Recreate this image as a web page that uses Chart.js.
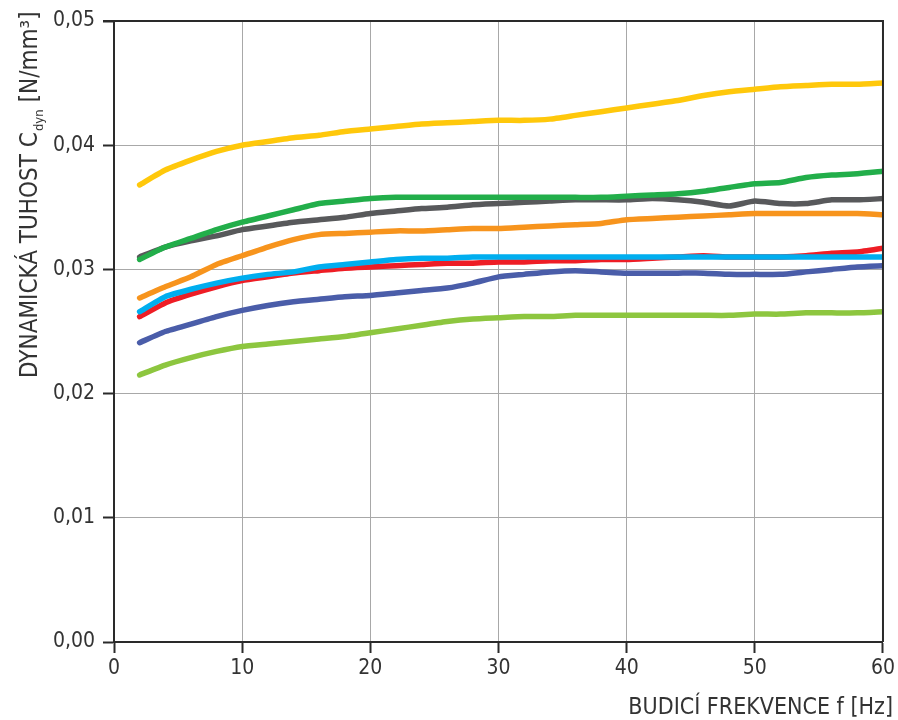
<!DOCTYPE html>
<html>
<head>
<meta charset="utf-8">
<script src="https://cdn.jsdelivr.net/npm/chart.js@4/dist/chart.umd.min.js"></script>
<style>
  html, body { margin: 0; padding: 0; background: #fff; }
  #wrap { width: 898px; height: 720px; position: relative; }
</style>
</head>
<body>
<div id="wrap"><canvas id="c"></canvas></div>
<script>
const freq = [2,4,6,8,10,12,14,16,18,20,22,24,26,28,30,32,34,36,38,40,42,44,46,48,50,52,54,56,58,60];

const yellow = [0.0368,0.0380,0.0388,0.0395,0.0400,0.0403,0.0406,0.0408,0.0411,0.0413,0.0415,0.0417,0.0418,0.0419,0.0420,0.0420,0.0421,0.0424,0.0427,0.0430,0.0433,0.0436,0.0440,0.0443,0.0445,0.0447,0.0448,0.0449,0.0449,0.0450];
const green = [0.0308,0.0318,0.0325,0.0332,0.0338,0.0343,0.0348,0.0353,0.0355,0.0357,0.0358,0.0358,0.0358,0.0358,0.0358,0.0358,0.0358,0.0358,0.0358,0.0359,0.0360,0.0361,0.0363,0.0366,0.0369,0.0370,0.0374,0.0376,0.0377,0.0379];
const grey = [0.0310,0.0318,0.0323,0.0327,0.0332,0.0335,0.0338,0.0340,0.0342,0.0345,0.0347,0.0349,0.0350,0.0352,0.0353,0.0354,0.0355,0.0356,0.0356,0.0356,0.0357,0.0356,0.0354,0.0351,0.0355,0.0353,0.0353,0.0356,0.0356,0.0357];
const orange = [0.0277,0.0286,0.0294,0.0304,0.0311,0.0318,0.0324,0.0328,0.0329,0.0330,0.0331,0.0331,0.0332,0.0333,0.0333,0.0334,0.0335,0.0336,0.0337,0.0340,0.0341,0.0342,0.0343,0.0344,0.0345,0.0345,0.0345,0.0345,0.0345,0.0344];
const cyan = [0.0266,0.0278,0.0284,0.0289,0.0293,0.0296,0.0298,0.0302,0.0304,0.0306,0.0308,0.0309,0.0309,0.0310,0.0310,0.0310,0.0310,0.0310,0.0310,0.0310,0.0310,0.0310,0.0310,0.0310,0.0310,0.0310,0.0310,0.0310,0.0310,0.0310];
const red = [0.0262,0.0273,0.0280,0.0286,0.0291,0.0294,0.0297,0.0299,0.0301,0.0302,0.0303,0.0304,0.0305,0.0305,0.0306,0.0306,0.0307,0.0307,0.0308,0.0308,0.0309,0.0310,0.0311,0.0310,0.0310,0.0310,0.0311,0.0313,0.0314,0.0317];
const navy = [0.0241,0.0250,0.0256,0.0262,0.0267,0.0271,0.0274,0.0276,0.0278,0.0279,0.0281,0.0283,0.0285,0.0289,0.0294,0.0296,0.0298,0.0299,0.0298,0.0297,0.0297,0.0297,0.0297,0.0296,0.0296,0.0296,0.0298,0.0300,0.0302,0.0303];
const lightGreen = [0.0215,0.0223,0.0229,0.0234,0.0238,0.0240,0.0242,0.0244,0.0246,0.0249,0.0252,0.0255,0.0258,0.0260,0.0261,0.0262,0.0262,0.0263,0.0263,0.0263,0.0263,0.0263,0.0263,0.0263,0.0264,0.0264,0.0265,0.0265,0.0265,0.0266];

const xTitle = 'BUDICÍ FREKVENCE f [Hz]';
const yTitleMain = 'DYNAMICKÁ TUHOST C';
const yTitleSub = 'dyn';
const yTitleUnit = '[N/mm³]';

const FONT = '"DejaVu Sans Condensed", "Liberation Sans Narrow", "Roboto", sans-serif';

function ds(data, color) {
  return {
    data: freq.map((f, i) => ({ x: f, y: data[i] })),
    borderColor: color,
    backgroundColor: color,
    borderWidth: 5.5,
    borderCapStyle: 'round',
    borderJoinStyle: 'round',
    pointRadius: 0,
    tension: 0.15,
    fill: false
  };
}

const framePlugin = {
  id: 'frame',
  afterDraw(chart) {
    const ctx = chart.ctx;
    const a = chart.chartArea;
    ctx.save();
    ctx.strokeStyle = '#2a2a2a';
    ctx.lineWidth = 2;
    ctx.beginPath();
    ctx.moveTo(a.left - 11, a.top);
    ctx.lineTo(a.right, a.top);
    ctx.lineTo(a.right, a.bottom);
    ctx.stroke();

    ctx.fillStyle = '#333';
    ctx.font = '23px ' + FONT;
    ctx.textAlign = 'right';
    ctx.textBaseline = 'alphabetic';
    ctx.fillText(xTitle, 893, 714);

    // y title rotated
    ctx.translate(37, 378);
    ctx.rotate(-Math.PI / 2);
    ctx.textAlign = 'left';
    ctx.font = '24px ' + FONT;
    ctx.fillText(yTitleMain, 0, 0);
    let w = ctx.measureText(yTitleMain).width;
    ctx.font = '13px ' + FONT;
    ctx.fillText(yTitleSub, w + 1, 6);
    w += 1 + ctx.measureText(yTitleSub).width + 7;
    ctx.font = '24px ' + FONT;
    ctx.fillText(yTitleUnit, w, 0);
    ctx.restore();
  }
};

new Chart(document.getElementById('c'), {
  type: 'line',
  data: {
    datasets: [
      ds(yellow, '#FFC80B'),
      ds(green, '#22AE4A'),
      ds(grey, '#58595B'),
      ds(orange, '#F7941D'),
      ds(cyan, '#00AEEF'),
      ds(red, '#EE1D25'),
      ds(navy, '#4A5DA9'),
      ds(lightGreen, '#8DC63F')
    ]
  },
  options: {
    responsive: true,
    maintainAspectRatio: false,
    animation: false,
    layout: { padding: { top: 21, right: 13, left: 0, bottom: 0 } },
    plugins: { legend: { display: false }, tooltip: { enabled: false } },
    scales: {
      x: {
        type: 'linear',
        min: 0, max: 60,
        afterFit(s) { s.height = 78; },
        ticks: {
          stepSize: 10,
          color: '#333',
          font: { family: FONT, size: 21 },
          padding: 3,
          maxRotation: 0
        },
        grid: {
          color: '#a8a8a8',
          lineWidth: 1,
          tickLength: 11,
          tickColor: '#2a2a2a',
          tickWidth: 2
        },
        border: { display: true, color: '#2a2a2a', width: 2 }
      },
      y: {
        min: 0, max: 0.05,
        afterFit(s) { s.width = 114; },
        ticks: {
          stepSize: 0.01,
          color: '#333',
          font: { family: FONT, size: 21 },
          padding: 8,
          callback: v => v.toFixed(2).replace('.', ',')
        },
        grid: {
          color: '#a8a8a8',
          lineWidth: 1,
          tickLength: 11,
          tickColor: '#2a2a2a',
          tickWidth: 2
        },
        border: { display: true, color: '#2a2a2a', width: 2 }
      }
    }
  },
  plugins: [framePlugin]
});
</script>
</body>
</html>
